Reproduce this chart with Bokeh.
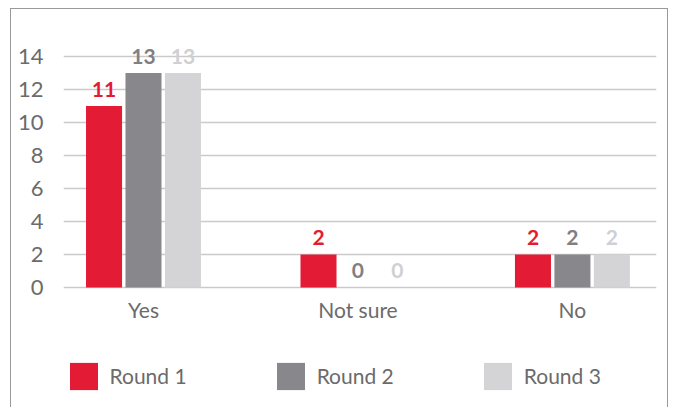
from bokeh.plotting import figure
from bokeh.models import ColumnDataSource, Legend, LegendItem, FixedTicker, Range1d
from bokeh.transform import dodge
from bokeh.core.properties import value
from bokeh.embed import file_html
from bokeh.resources import INLINE

categories = ["Yes", "Not sure", "No"]
rounds = ["Round 1", "Round 2", "Round 3"]
round1 = [11, 2, 2]
round2 = [13, 0, 2]
round3 = [13, 0, 2]
y_ticks = [0, 2, 4, 6, 8, 10, 12, 14]

bar_colors = ["#e31b34", "#88888c", "#d4d4d6"]
label_colors = ["#e31b34", "#808084", "#d0d0d2"]
FONT = "Lato"

xs = list(range(len(categories)))
src = ColumnDataSource(dict(
    x=xs,
    base=[0] * len(categories),
    cat=categories,
    r1=round1, r2=round2, r3=round3,
    t1=[str(v) for v in round1],
    t2=[str(v) for v in round2],
    t3=[str(v) for v in round3],
))

p = figure(width=658, height=399, output_backend="svg", toolbar_location=None,
           x_range=Range1d(-0.373, 2.392), y_range=Range1d(-7.33, 14.97),
           x_axis_location=None,
           min_border_left=52, min_border_right=13, min_border_top=31, min_border_bottom=0)
p.styles = {"margin-left": "10px", "margin-top": "8px",
            "border-left": "1px solid #999999", "border-top": "1px solid #999999",
            "border-right": "1px solid #999999"}
p.outline_line_color = None
p.background_fill_color = "white"

offsets = [-0.184, 0.0, 0.184]
cols = ["r1", "r2", "r3"]
tcols = ["t1", "t2", "t3"]
bar_w = 0.168
items = []
for i in range(3):
    r = p.vbar(x=dodge("x", offsets[i], range=p.x_range), top=cols[i], width=bar_w,
               bottom=0, source=src, fill_color=bar_colors[i], line_color=None)
    p.text(x=dodge("x", offsets[i], range=p.x_range), y=cols[i], text=tcols[i], source=src,
           text_align="center", text_baseline="alphabetic", y_offset=-17,
           text_font=value(FONT), text_font_style="bold", text_font_size="21px",
           text_color=label_colors[i])
    items.append(LegendItem(label=rounds[i], renderers=[r]))

# category labels under the groups
p.text(x="x", y="base", text="cat", source=src, text_align="center",
       text_baseline="alphabetic", y_offset=22, text_font=value(FONT),
       text_font_size="21px", text_color="#6b6b6b")

# y axis
p.yaxis.ticker = FixedTicker(ticks=y_ticks)
p.yaxis.axis_line_color = None
p.yaxis.major_tick_line_color = None
p.yaxis.minor_tick_line_color = None
p.yaxis.major_label_standoff = 14
p.yaxis.major_label_text_font = FONT
p.yaxis.major_label_text_font_size = "22px"
p.yaxis.major_label_text_color = "#6b6b6b"

p.xgrid.grid_line_color = None
p.ygrid.ticker = FixedTicker(ticks=y_ticks)
p.ygrid.grid_line_color = "#cacaca"
p.ygrid.grid_line_width = 1.5

legend = Legend(items=items, orientation="horizontal", location=(2.5, 15.4),
                glyph_width=35, glyph_height=34, label_standoff=9, spacing=86,
                padding=0, margin=0, border_line_color=None, background_fill_alpha=0,
                label_text_font=FONT, label_text_font_size="21px",
                label_text_color="#6b6b6b")
p.add_layout(legend, "center")

open("out.html", "w").write(file_html(p, INLINE))
